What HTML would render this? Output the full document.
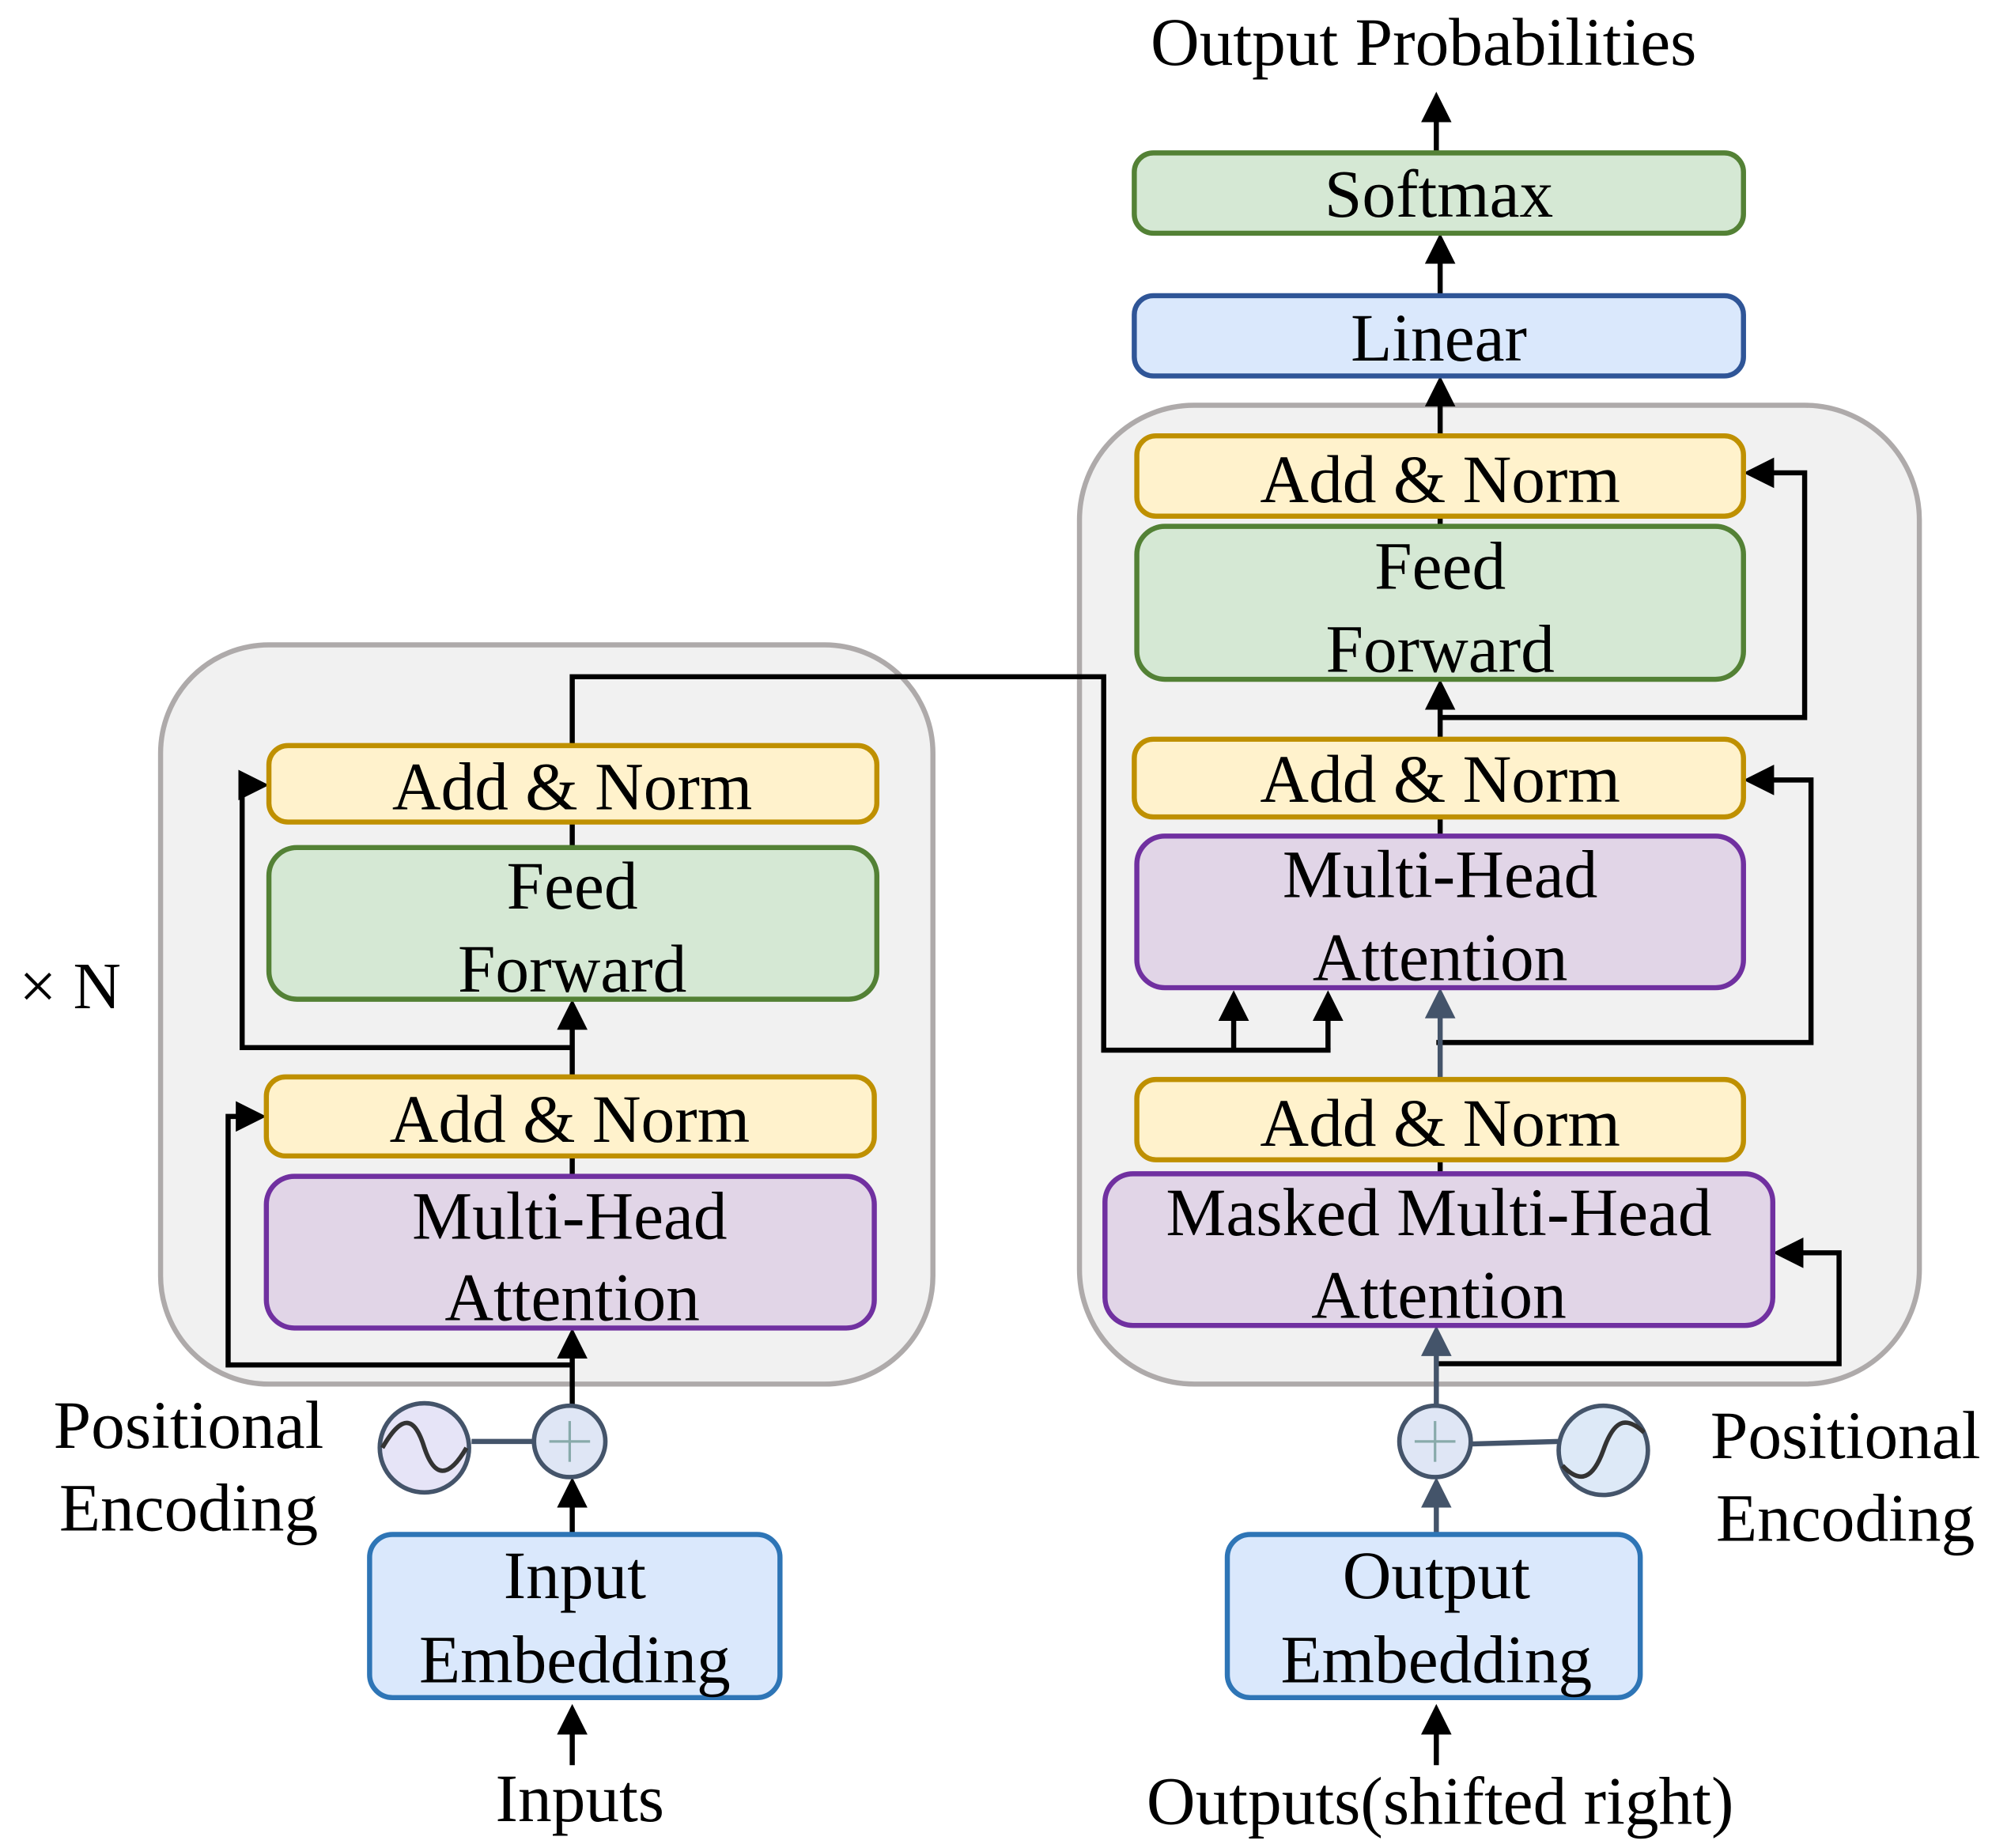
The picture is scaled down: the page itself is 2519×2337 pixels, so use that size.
<!DOCTYPE html>
<html><head><meta charset="utf-8"><style>
html,body{margin:0;padding:0;background:#fff;}
svg{display:block;}
text{font-family:"Liberation Serif",serif;fill:#000;text-anchor:middle;}
</style></head><body>
<svg width="2519" height="2337" viewBox="0 0 1563 1450" preserveAspectRatio="none" xmlns="http://www.w3.org/2000/svg">
<defs>
<marker id="a" markerWidth="6" markerHeight="6" refX="5" refY="3" orient="auto" markerUnits="strokeWidth"><path d="M0,0 L6,3 L0,6 Z" fill="#000"/></marker>
<marker id="g" markerWidth="6" markerHeight="6" refX="5" refY="3" orient="auto" markerUnits="strokeWidth"><path d="M0,0 L6,3 L0,6 Z" fill="#44546a"/></marker>
</defs>
<rect x="126" y="506" width="606" height="580" rx="85" fill="#f1f1f1" stroke="#aeaaaa" stroke-width="4"/>
<rect x="847" y="318" width="659" height="768" rx="90" fill="#f1f1f1" stroke="#aeaaaa" stroke-width="4"/>

<g stroke="#000" stroke-width="4" fill="none">
<line x1="449" y1="1385" x2="449" y2="1341" marker-end="url(#a)"/>
<line x1="449" y1="1204" x2="449" y2="1163" marker-end="url(#a)"/>
<line x1="449" y1="1103" x2="449" y2="1046" marker-end="url(#a)"/>
<polyline points="449,1071 179,1071 179,876 205,876" marker-end="url(#a)"/>
<line x1="449" y1="907" x2="449" y2="923"/>
<line x1="449" y1="845" x2="449" y2="788" marker-end="url(#a)"/>
<polyline points="449,822 190,822 190,616 207,616" marker-end="url(#a)"/>
<line x1="449" y1="645" x2="449" y2="665"/>
<polyline points="449,585 449,531 866,531 866,824 1044,824"/>
<line x1="968" y1="824" x2="968" y2="781" marker-end="url(#a)"/>
<line x1="1042" y1="824" x2="1042" y2="781" marker-end="url(#a)"/>
<line x1="1127" y1="1385" x2="1127" y2="1341" marker-end="url(#a)"/>
<polyline points="1127,1070 1443,1070 1443,983 1395,983" marker-end="url(#a)"/>
<line x1="1130" y1="910" x2="1130" y2="921"/>
<polyline points="1127,818 1421,818 1421,612 1372,612" marker-end="url(#a)"/>
<line x1="1130" y1="641" x2="1130" y2="656"/>
<line x1="1130" y1="580" x2="1130" y2="537" marker-end="url(#a)"/>
<polyline points="1130,563 1416,563 1416,371 1372,371" marker-end="url(#a)"/>
<line x1="1130" y1="405" x2="1130" y2="413"/>
<line x1="1130" y1="342" x2="1130" y2="299" marker-end="url(#a)"/>
<line x1="1130" y1="232" x2="1130" y2="187" marker-end="url(#a)"/>
<line x1="1127" y1="120" x2="1127" y2="76" marker-end="url(#a)"/>
</g>
<g stroke="#44546a" stroke-width="4" fill="none">
<line x1="1127" y1="1204" x2="1127" y2="1163" marker-end="url(#g)"/>
<line x1="1127" y1="1103" x2="1127" y2="1044" marker-end="url(#g)"/>
<line x1="1130" y1="847" x2="1130" y2="779" marker-end="url(#g)"/>
<line x1="370" y1="1131" x2="419" y2="1131"/>
<line x1="1154" y1="1133" x2="1223" y2="1131"/>
</g>

<g stroke-width="4">
<rect x="211" y="585" width="477" height="60" rx="15" fill="#fff2cc" stroke="#bf9000"/>
<rect x="211" y="665" width="477" height="119" rx="22" fill="#d5e8d4" stroke="#538135"/>
<rect x="209" y="845" width="477" height="62" rx="15" fill="#fff2cc" stroke="#bf9000"/>
<rect x="209" y="923" width="477" height="119" rx="22" fill="#e1d5e7" stroke="#7030a0"/>
<rect x="290" y="1204" width="322" height="128" rx="18" fill="#dae8fc" stroke="#2e75b6"/>
<rect x="890" y="120" width="478" height="63" rx="15" fill="#d5e8d4" stroke="#538135"/>
<rect x="890" y="232" width="478" height="63" rx="15" fill="#dae8fc" stroke="#2f5597"/>
<rect x="892" y="342" width="476" height="63" rx="15" fill="#fff2cc" stroke="#bf9000"/>
<rect x="892" y="413" width="476" height="120" rx="22" fill="#d5e8d4" stroke="#538135"/>
<rect x="890" y="580" width="478" height="61" rx="15" fill="#fff2cc" stroke="#bf9000"/>
<rect x="892" y="656" width="476" height="119" rx="22" fill="#e1d5e7" stroke="#7030a0"/>
<rect x="892" y="847" width="476" height="63" rx="15" fill="#fff2cc" stroke="#bf9000"/>
<rect x="867" y="921" width="524" height="119" rx="22" fill="#e1d5e7" stroke="#7030a0"/>
<rect x="963" y="1204" width="324" height="128" rx="18" fill="#dae8fc" stroke="#2e75b6"/>
</g>

<g stroke="#44546a" stroke-width="3.5">
<circle cx="447" cy="1131" r="28" fill="#dfe6f5"/>
<circle cx="333" cy="1136" r="35" fill="#e6e4f7"/>
<circle cx="1126" cy="1131" r="28" fill="#dfe6f5"/>
<circle cx="1258" cy="1138" r="35" fill="#dde9f7"/>
</g>
<g stroke="#8aa" stroke-width="2" fill="none">
<line x1="447" y1="1115" x2="447" y2="1147"/><line x1="431" y1="1131" x2="463" y2="1131"/>
<line x1="1126" y1="1115" x2="1126" y2="1147"/><line x1="1110" y1="1131" x2="1142" y2="1131"/>
</g>
<g stroke="#333" stroke-width="3.5" fill="none">
<path d="M300,1136 C315,1110 325,1110 333,1136 C341,1160 352,1160 366,1136"/>
<path d="M1226,1150 C1240,1165 1250,1160 1258,1138 C1266,1115 1275,1110 1290,1124"/>
</g>

<g font-size="53">
<text x="1117" y="51">Output Probabilities</text>
<text x="1129" y="170">Softmax</text>
<text x="1129" y="283">Linear</text>
<text x="1130" y="394">Add &amp; Norm</text>
<text x="1130" y="462">Feed</text>
<text x="1130" y="527">Forward</text>
<text x="1130" y="629">Add &amp; Norm</text>
<text x="1130" y="704">Multi-Head</text>
<text x="1130" y="769">Attention</text>
<text x="1130" y="899">Add &amp; Norm</text>
<text x="1129" y="969">Masked Multi-Head</text>
<text x="1129" y="1034">Attention</text>
<text x="1127" y="1254">Output</text>
<text x="1127" y="1320">Embedding</text>
<text x="1130" y="1431">Outputs(shifted right)</text>
<text x="1448" y="1144">Positional</text>
<text x="1448" y="1209">Encoding</text>
<text x="449" y="635">Add &amp; Norm</text>
<text x="449" y="713">Feed</text>
<text x="449" y="778">Forward</text>
<text x="447" y="896">Add &amp; Norm</text>
<text x="447" y="972">Multi-Head</text>
<text x="449" y="1036">Attention</text>
<text x="451" y="1254">Input</text>
<text x="451" y="1320">Embedding</text>
<text x="455" y="1429">Inputs</text>
<text x="148" y="1136">Positional</text>
<text x="148" y="1201">Encoding</text>
<text x="55" y="791" font-size="52">× N</text>
</g>
</svg>
</body></html>
